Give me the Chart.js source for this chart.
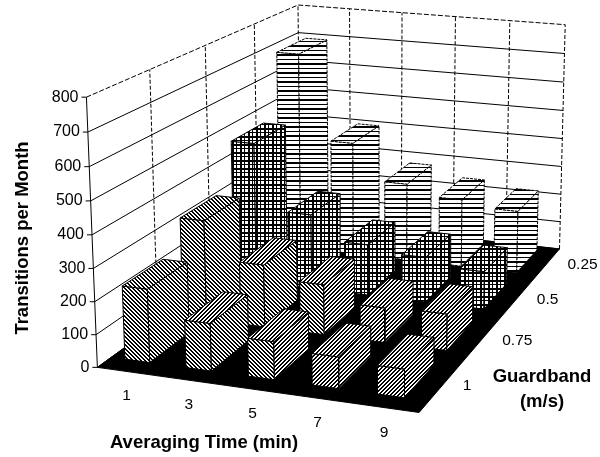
<!DOCTYPE html>
<html>
<head>
<meta charset="utf-8">
<title>Transitions per Month</title>
<script src="https://cdn.jsdelivr.net/npm/chart.js@4"></script>
<style>
  html, body { margin: 0; background: #fff; }
  #wrap { width: 600px; height: 457px; }
</style>
</head>
<body>
<div id="wrap"><canvas id="chart" width="600" height="457"></canvas></div>
<script>
const timeLabels = ['1', '3', '5', '7', '9'];
const guardLabels = ['1', '0.75', '0.5', '0.25']; // front row first
const valueTicks = [0, 100, 200, 300, 400, 500, 600, 700, 800];

// one list per guardband, values for averaging time 1, 3, 5, 7, 9
const guard1 = [225, 145, 115, 95, 85];
const guard075 = [320, 200, 160, 110, 115];
const guard05 = [470, 250, 170, 150, 125];
const guard025 = [690, 395, 270, 235, 215];
const rows = [guard1, guard075, guard05, guard025];

const maxValue = 800;

// cube corners (time 0..1, guardband 0..1, value 0..1) and where the 3D view puts them
const viewCorners = [
    [0, 0, 0, 95, 367], [1, 0, 0, 420, 412], [1, 1, 0, 558, 250], [0, 1, 0, 303, 220],
    [0, 0, 1, 88, 98], [0, 1, 1, 296, 5], [1, 1, 1, 566, 24]
];

function solveView(corners) {
    const n = 11;
    const A = Array.from({ length: n }, () => new Array(n + 1).fill(0));
    const addRow = (r, b) => {
        for (let i = 0; i < n; i++) {
            for (let j = 0; j < n; j++) A[i][j] += r[i] * r[j];
            A[i][n] += r[i] * b;
        }
    };
    corners.forEach(([u, v, w, px, py]) => {
        addRow([u, v, w, 1, 0, 0, 0, 0, -px * u, -px * v, -px * w], px);
        addRow([0, 0, 0, 0, u, v, w, 1, -py * u, -py * v, -py * w], py);
    });
    for (let c = 0; c < n; c++) {
        let best = c;
        for (let r = c + 1; r < n; r++) if (Math.abs(A[r][c]) > Math.abs(A[best][c])) best = r;
        [A[c], A[best]] = [A[best], A[c]];
        for (let r = 0; r < n; r++) {
            if (r === c) continue;
            const f = A[r][c] / A[c][c];
            for (let k = c; k <= n; k++) A[r][k] -= f * A[c][k];
        }
    }
    return A.map((row, i) => row[n] / row[i]);
}

const m = solveView(viewCorners);

function project(u, v, w) {
    const d = m[8] * u + m[9] * v + m[10] * w + 1;
    return {
        x: (m[0] * u + m[1] * v + m[2] * w + m[3]) / d,
        y: (m[4] * u + m[5] * v + m[6] * w + m[7]) / d
    };
}

// Fill patterns
function makePattern(w, h, isDark) {
    const c = document.createElement('canvas');
    c.width = w;
    c.height = h;
    const g = c.getContext('2d');
    g.fillStyle = '#fff';
    g.fillRect(0, 0, w, h);
    g.fillStyle = '#000';
    for (let y = 0; y < h; y++) {
        for (let x = 0; x < w; x++) {
            if (isDark(x, y)) g.fillRect(x, y, 1, 1);
        }
    }
    return g.createPattern(c, 'repeat');
}

const gridStep = (i) => i === 0 || i === 1 || i === 4;
const lineStep = (i) => i === 0 || i === 1 || i === 5;
const hatchDown = makePattern(4, 4, (x, y) => (x - y + 4) % 4 < 2);
const hatchUp = makePattern(4, 4, (x, y) => (x + y) % 4 < 2);
const gridFill = makePattern(8, 8, (x, y) => gridStep(x) || gridStep(y));
const linesFill = makePattern(1, 9, (x, y) => lineStep(y));

// hatch direction changes across the scan: front face, side face, top for each averaging time
const hatchByTime = [
    [hatchDown, hatchDown, hatchDown],
    [hatchDown, hatchDown, hatchUp],
    [hatchDown, hatchUp, hatchUp],
    [hatchUp, hatchUp, hatchUp],
    [hatchUp, hatchUp, hatchUp]
];
const gridFills = [gridFill, gridFill, gridFill];
const lineFills = [linesFill, linesFill, linesFill];

function facesFor(row, time) {
    if (row < 2) return hatchByTime[time];
    return row === 2 ? gridFills : lineFills;
}

const shapes = [];

function addShape(points, fill, width, dash) {
    shapes.push({
        data: points,
        showLine: true,
        borderColor: '#000',
        borderWidth: width,
        borderDash: dash || [],
        backgroundColor: fill || 'transparent',
        fill: fill ? 'shape' : false,
        pointRadius: 0,
        tension: 0
    });
}

// walls
valueTicks.forEach((tick) => {
    const w = tick / maxValue;
    const top = tick === maxValue;
    addShape([project(0, 0, w), project(0, 1, w), project(1, 1, w)], null, 1, top ? [5, 2] : []);
});
for (let i = 0; i <= guardLabels.length; i++) {
    const v = i / guardLabels.length;
    addShape([project(0, v, 0), project(0, v, 1)], null, 1, i === 0 ? [] : [4, 2]);
}
for (let i = 1; i <= timeLabels.length; i++) {
    const u = i / timeLabels.length;
    addShape([project(u, 1, 0), project(u, 1, 1)], null, 1, [4, 2]);
}
valueTicks.forEach((tick) => {
    const p = project(0, 0, tick / maxValue);
    addShape([{ x: p.x - 5, y: p.y }, p], null, 1);
});

// floor
addShape([project(0, 0, 0), project(1, 0, 0), project(1, 1, 0), project(0, 1, 0), project(0, 0, 0)], '#000', 1);

// bars, back row first and left to right
const barHalfU = 0.205 / timeLabels.length;
const barHalfV = 0.34 / guardLabels.length;
for (let r = rows.length - 1; r >= 0; r--) {
    const edgeDash = r === rows.length - 1 ? [3, 1] : [];
    rows[r].forEach((value, t) => {
        const fills = facesFor(r, t);
        const centreU = (t + 0.5) / timeLabels.length - 0.014;
        const centreV = (r + 0.5) / guardLabels.length + 0.015;
        const u0 = centreU - barHalfU;
        const u1 = centreU + barHalfU;
        const v0 = centreV - barHalfV;
        const v1 = centreV + barHalfV;
        const w = value / maxValue;
        addShape([project(u0, v0, 0), project(u1, v0, 0), project(u1, v0, w), project(u0, v0, w), project(u0, v0, 0)], fills[0], 1, edgeDash);
        addShape([project(u1, v0, 0), project(u1, v1, 0), project(u1, v1, w), project(u1, v0, w), project(u1, v0, 0)], fills[1], 1, edgeDash);
        addShape([project(u0, v0, w), project(u1, v0, w), project(u1, v1, w), project(u0, v1, w), project(u0, v0, w)], fills[2], 1, edgeDash);
    });
}

// Chart.js paints the first dataset last
shapes.reverse();

const axisText = {
    id: 'axisText',
    afterDatasetsDraw(chart) {
        const ctx = chart.ctx;
        ctx.save();
        ctx.fillStyle = '#000';
        ctx.textBaseline = 'middle';

        ctx.font = '16px "Liberation Sans"';
        ctx.textAlign = 'right';
        valueTicks.forEach((tick) => {
            const p = project(0, 0, tick / maxValue);
            ctx.fillText(String(tick), p.x - 8, p.y);
        });

        ctx.font = '15.5px "Liberation Sans"';
        ctx.textAlign = 'center';
        timeLabels.forEach((label, i) => {
            const p = project(0.97 * (i + 0.5) / timeLabels.length + 0.08, -0.1, 0);
            ctx.fillText(label, p.x, p.y + 1);
        });
        ctx.textAlign = 'left';
        guardLabels.forEach((label, i) => {
            const p = project(1, (i + 0.5) / guardLabels.length, 0);
            ctx.fillText(label, p.x + 22, p.y - 1);
        });

        ctx.textAlign = 'center';
        ctx.font = 'bold 18.5px "Liberation Sans"';
        ctx.fillText('Averaging Time (min)', 204, 443);
        ctx.fillText('Guardband', 542, 377);
        ctx.fillText('(m/s)', 542, 402);

        ctx.translate(23, 238);
        ctx.rotate(-Math.PI / 2);
        ctx.fillText('Transitions per Month', 0, 0);
        ctx.restore();
    }
};

new Chart(document.getElementById('chart'), {
    type: 'scatter',
    data: { datasets: shapes },
    options: {
        responsive: false,
        animation: false,
        layout: { padding: 0 },
        plugins: { legend: { display: false }, tooltip: { enabled: false } },
        scales: {
            x: { type: 'linear', display: false, min: 0, max: 600 },
            y: { type: 'linear', display: false, min: 0, max: 457, reverse: true }
        }
    },
    plugins: [axisText]
});
</script>
</body>
</html>
